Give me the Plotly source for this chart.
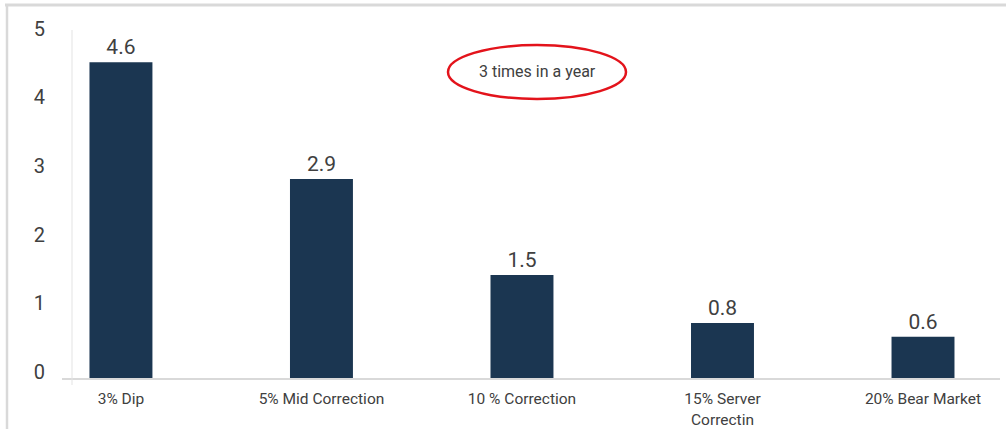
import plotly.graph_objects as go

categories = ["3% Dip", "5% Mid Correction", "10 % Correction", "15% Server<br>Correctin", "20% Bear Market"]
values = [4.6, 2.9, 1.5, 0.8, 0.6]
value_labels = ["4.6", "2.9", "1.5", "0.8", "0.6"]
y_ticks = [0, 1, 2, 3, 4, 5]
note_text = "3 times in a year"

W, H = 1006, 429
L, R, T, B = 62, 6, 28, 51
pw, ph = W - L - R, H - T - B

def px(x):
    return (x - L) / pw

def py(y):
    return (H - B - y) / ph

fig = go.Figure()
fig.add_trace(go.Bar(
    x=list(range(len(categories))),
    y=values,
    width=0.314,
    marker=dict(color="#1b3651", line=dict(width=0)),
    text=value_labels,
    textposition="outside",
    textfont=dict(family="Roboto", size=21, color="#404040"),
    cliponaxis=False,
))

grey = "#d9d9d9"
shapes = [
    dict(type="line", xref="paper", yref="paper", x0=px(5), x1=px(1006), y0=py(5), y1=py(5),
         line=dict(color=grey, width=3)),
    dict(type="line", xref="paper", yref="paper", x0=px(7), x1=px(7), y0=py(4), y1=py(429),
         line=dict(color=grey, width=2.5)),
    dict(type="line", xref="paper", yref="paper", x0=px(72), x1=px(72), y0=py(30), y1=py(385),
         line=dict(color="#e3e3e3", width=1)),
    dict(type="circle", xref="paper", yref="paper", x0=px(448), x1=px(626), y0=py(99), y1=py(45),
         line=dict(color="#e3131b", width=2.5)),
]

fig.update_layout(
    width=W, height=H,
    margin=dict(l=L, r=R, t=T, b=B, autoexpand=False),
    paper_bgcolor="white", plot_bgcolor="white",
    showlegend=False,
    shapes=shapes,
    annotations=[dict(text=note_text, xref="paper", yref="paper", x=px(537), y=py(72),
                      xanchor="center", yanchor="middle",
                      showarrow=False, font=dict(family="Roboto", size=16, color="#404040"))],
    font=dict(family="Roboto", color="#404040"),
)
fig.update_xaxes(
    range=[-0.294, 4.384], automargin=False,
    tickmode="array", tickvals=list(range(len(categories))), ticktext=categories,
    tickfont=dict(family="Roboto", size=15.5, color="#404040"),
    showgrid=False, zeroline=False,
    showline=True, linecolor=grey, linewidth=1.5,
    ticks="", ticklabelstandoff=6,
)
fig.update_yaxes(
    range=[0, 5.1], automargin=False,
    tickmode="array", tickvals=y_ticks,
    tickfont=dict(family="Roboto", size=20, color="#404040"),
    showgrid=False, zeroline=False, showline=False,
    ticks="", ticklabelstandoff=16, ticklabelshift=-6,
)

fig.write_html("out.html")
